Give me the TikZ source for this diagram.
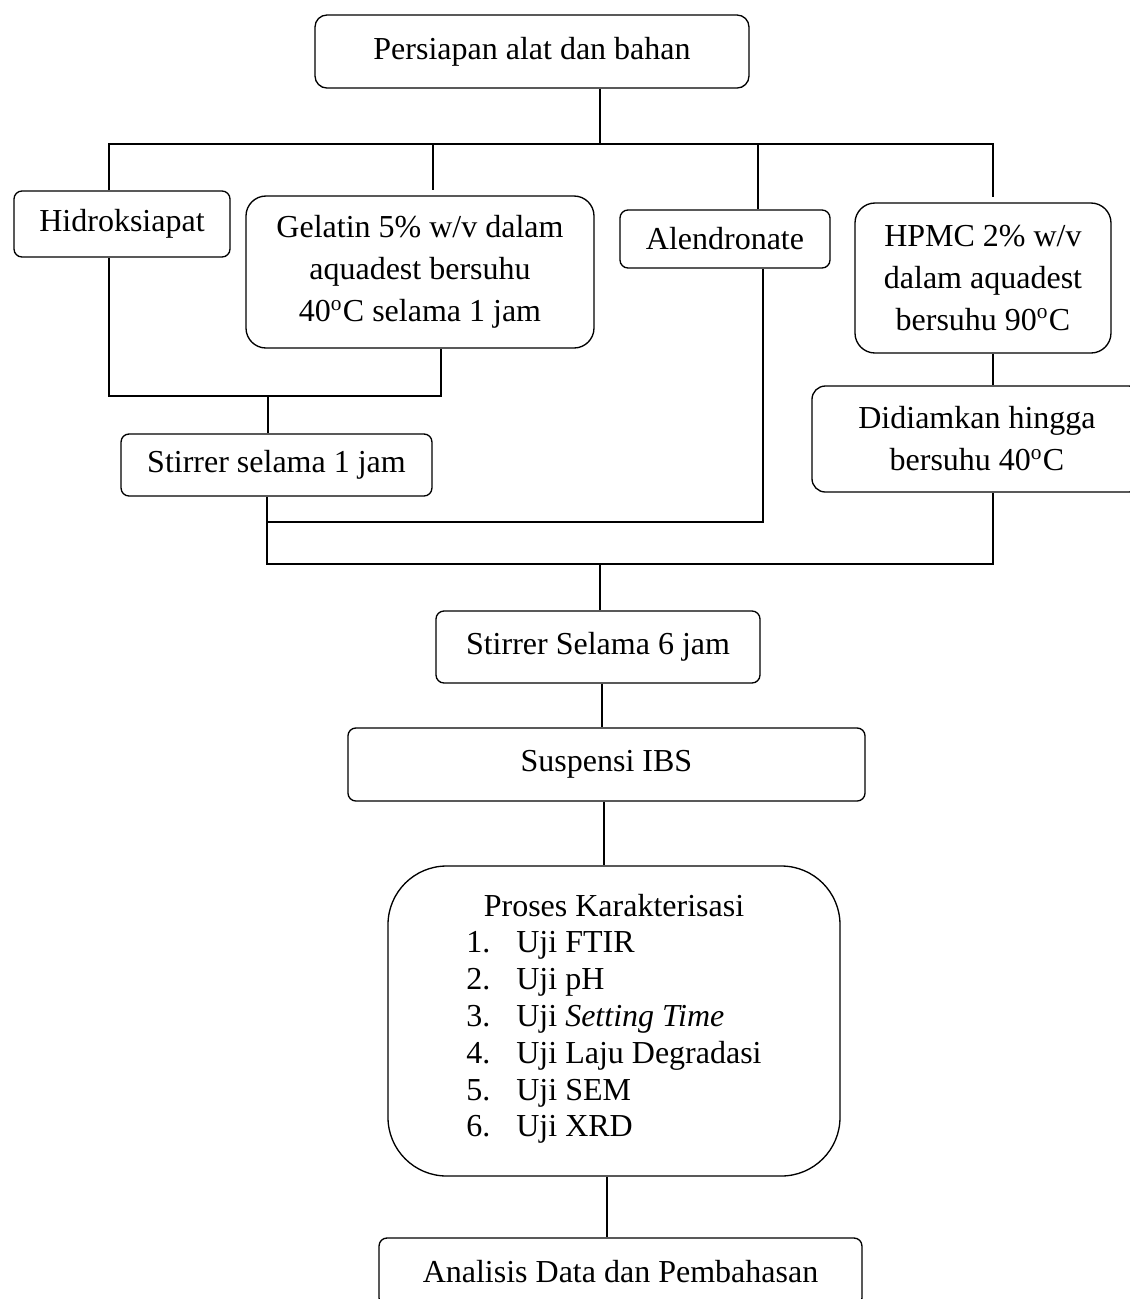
\documentclass[tikz,border=0pt]{standalone}
\usepackage{fontspec}
\setmainfont{Liberation Serif}
\usetikzlibrary{positioning}

\tikzset{
  box/.style={draw, rounded corners=3pt, align=center, inner sep=0pt,
    font=\fontsize{12}{15.75}\selectfont},
  bigbox/.style={box, rounded corners=7.5pt}
}

\begin{document}
\begin{tikzpicture}[x=0.375pt, y=-0.375pt, line width=0.5pt]
	\useasboundingbox (0,0) rectangle (1130,1299);
	% Boxes
	\node[box, rounded corners=4.5pt, minimum width=162.75pt, minimum height=27.4pt] (persiapan) at (532,51.5) {Persiapan alat dan bahan};
	\node[box, minimum width=81pt, minimum height=24.75pt] (hidroksi) at (122,224) {Hidroksiapat};
	\node[bigbox, minimum width=130.5pt, minimum height=57pt] (gelatin) at (420,272) {Gelatin 5\% w/v dalam\\aquadest bersuhu\\40\textsuperscript{o}C selama 1 jam};
	\node[box, minimum width=78.75pt, minimum height=21.75pt] (alendro) at (725,239) {Alendronate};
	\node[bigbox, minimum width=96pt, minimum height=56.25pt] (hpmc) at (983,278) {HPMC 2\% w/v\\dalam aquadest\\bersuhu 90\textsuperscript{o}C};
	\node[box, rounded corners=5pt, minimum width=123.75pt, minimum height=39.75pt] (diam) at (977,439) {Didiamkan hingga\\bersuhu 40\textsuperscript{o}C};
	\node[box, minimum width=116.6pt, minimum height=23.25pt] (stir1) at (276.5,465) {Stirrer selama 1 jam};
	\node[box, minimum width=121.5pt, minimum height=27pt] (stir6) at (598,647) {Stirrer Selama 6 jam};
	\node[box, minimum width=193.9pt, minimum height=27.4pt] (suspensi) at (606.5,764.5) {Suspensi IBS};
	\node[box, rounded corners=22pt, minimum width=169.5pt, minimum height=116.25pt,
		font=\fontsize{12}{13.8}\selectfont] (karakter) at (614,1021) {Proses Karakterisasi\\
		\begin{tabular}[t]{@{}l@{}}
			\makebox[18.75pt][l]{1.}Uji FTIR\\
			\makebox[18.75pt][l]{2.}Uji pH\\
			\makebox[18.75pt][l]{3.}Uji \textit{Setting Time}\\
			\makebox[18.75pt][l]{4.}Uji Laju Degradasi\\
			\makebox[18.75pt][l]{5.}Uji SEM\\
			\makebox[18.75pt][l]{6.}Uji XRD
		\end{tabular}};
	\node[box, minimum width=181.1pt, minimum height=25.5pt] (analisis) at (620.5,1272) {Analisis Data dan Pembahasan};
	% Junction points
	\coordinate (bus1) at (600,144);
	\coordinate (b1l) at (109,144);
	\coordinate (b1r) at (993,144);
	\coordinate (g1) at (433,144);
	\coordinate (a1) at (758,144);
	\coordinate (g2) at (441,396);
	\coordinate (j1) at (268,396);
	\coordinate (j2) at (267,564);
	\coordinate (k1) at (763,522);
	\coordinate (k2) at (993,564);
	\coordinate (j3) at (600,564);
	\coordinate (s1) at (602,700);
	\coordinate (s2) at (604,830);
	\coordinate (s3) at (607,1200);
	% Connectors
	\draw (persiapan.south -| bus1) -- (bus1);
	\draw[shorten >=2pt] (hidroksi.north -| b1l) -- (b1l) -- (b1r) -- (hpmc.north -| b1r);
	\draw[shorten >=2pt] (g1) -- (g1 |- gelatin.north);
	\draw (a1) -- (a1 |- alendro.north);
	\draw (b1l |- hidroksi.south) |- (g2) -- (g2 |- gelatin.south);
	\draw (j1) -- (j1 |- stir1.north);
	\draw (stir1.south -| j2) -- (j2) -- (k2) -- (k2 |- diam.south);
	\draw (j2 |- k1) -- (k1) -- (k1 |- alendro.south);
	\draw (hpmc.south -| k2) -- (k2 |- diam.north);
	\draw (j3) -- (j3 |- stir6.north);
	\draw (stir6.south -| s1) -- (s1 |- suspensi.north);
	\draw (suspensi.south -| s2) -- (s2 |- karakter.north);
	\draw (karakter.south -| s3) -- (s3 |- analisis.north);
\end{tikzpicture}
\end{document}
